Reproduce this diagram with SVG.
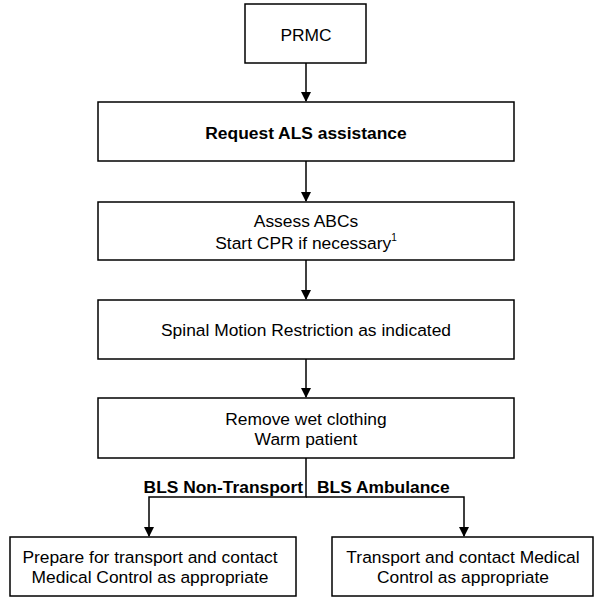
<svg xmlns="http://www.w3.org/2000/svg" width="605" height="598" viewBox="0 0 605 598">
<defs>
<style>
.box{fill:#fff;stroke:#000;stroke-width:1.5}
.t{font-family:"Liberation Sans",Arial,sans-serif;font-size:17.4px;fill:#000;text-anchor:middle}
.b{font-weight:bold}
.c{fill:none;stroke:#000;stroke-width:1.5}
</style>
<marker id="ah" markerWidth="10" markerHeight="10" refX="9" refY="5" orient="auto" markerUnits="userSpaceOnUse">
<path d="M0,0 L10,5 L0,10 Z" fill="#000"/>
</marker>
</defs>
<rect width="605" height="598" fill="#fff"/>
<g id="connectors">
<line class="c" x1="306" y1="63" x2="306" y2="101" marker-end="url(#ah)"/>
<line class="c" x1="306" y1="161" x2="306" y2="201" marker-end="url(#ah)"/>
<line class="c" x1="306" y1="260" x2="306" y2="299" marker-end="url(#ah)"/>
<line class="c" x1="306" y1="359" x2="306" y2="397" marker-end="url(#ah)"/>
<polyline class="c" points="306,458 306,497 149,497 149,536" marker-end="url(#ah)"/>
<polyline class="c" points="306,497 464,497 464,536" marker-end="url(#ah)"/>
<text class="t b" x="303" y="493" style="text-anchor:end">BLS Non-Transport</text>
<text class="t b" x="317" y="493" style="text-anchor:start">BLS Ambulance</text>
</g>
<g id="prmc">
<rect class="box" x="245" y="4" width="121" height="59"/>
<text class="t" x="306" y="40.5">PRMC</text>
</g>
<g id="request-als">
<rect class="box" x="98" y="102" width="416" height="59"/>
<text class="t b" x="306" y="138.5">Request ALS assistance</text>
</g>
<g id="assess-abcs">
<rect class="box" x="98" y="202" width="416" height="58"/>
<text class="t" x="306" y="227">Assess ABCs</text>
<text class="t" x="306" y="248.5">Start CPR if necessary<tspan font-size="10" dy="-8">1</tspan></text>
</g>
<g id="spinal">
<rect class="box" x="98" y="300" width="416" height="59"/>
<text class="t" x="306" y="336">Spinal Motion Restriction as indicated</text>
</g>
<g id="warm">
<rect class="box" x="98" y="398" width="416" height="60"/>
<text class="t" x="306" y="424.5">Remove wet clothing</text>
<text class="t" x="306" y="445">Warm patient</text>
</g>
<g id="non-transport">
<rect class="box" x="10" y="537" width="286" height="59"/>
<text class="t" x="150" y="562.5">Prepare for transport and contact</text>
<text class="t" x="150" y="583">Medical Control as appropriate</text>
</g>
<g id="ambulance">
<rect class="box" x="332" y="537" width="261" height="59"/>
<text class="t" x="463" y="562.5">Transport and contact Medical</text>
<text class="t" x="463" y="583">Control as appropriate</text>
</g>
</svg>
